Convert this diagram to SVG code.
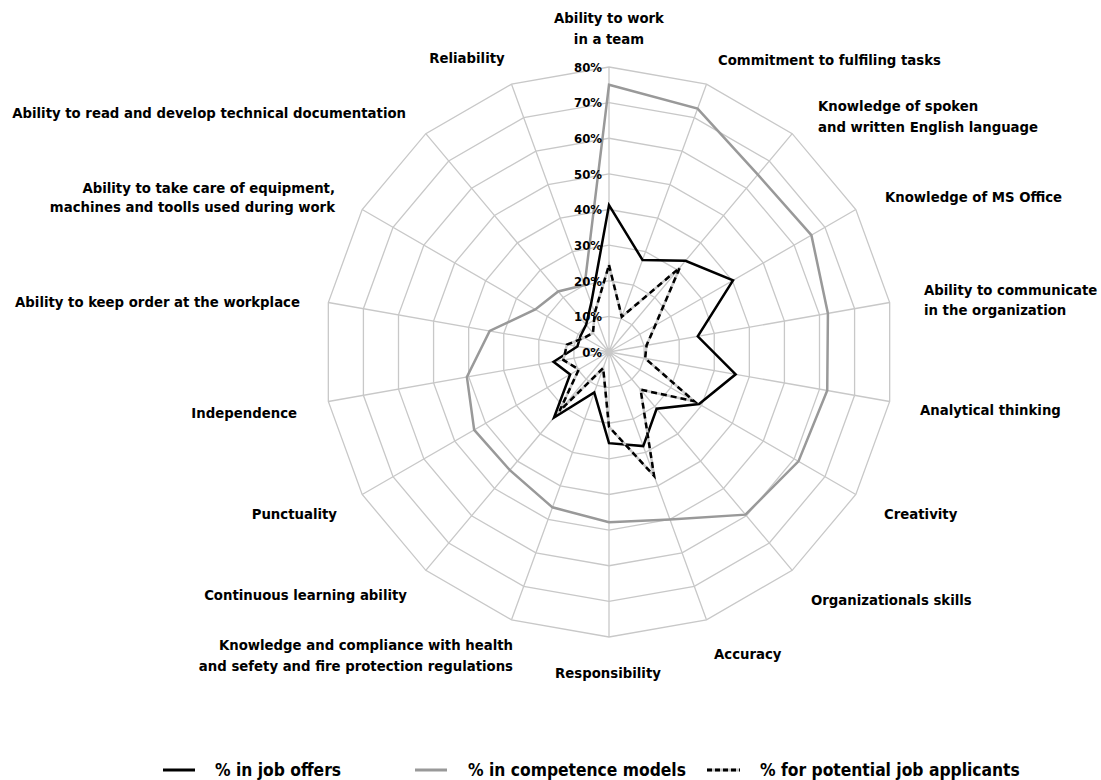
<svg xmlns="http://www.w3.org/2000/svg" xmlns:xlink="http://www.w3.org/1999/xlink" width="1101" height="780" viewBox="0 0 1101 780">
<style>
.lbl{font-family:"DejaVu Sans Condensed","DejaVu Sans",sans-serif;font-weight:bold;font-size:14.75px;fill:#000}
.pct{font-family:"DejaVu Sans Condensed","DejaVu Sans",sans-serif;font-weight:bold;font-size:13px;fill:#000;text-anchor:end}
.leg{font-family:"DejaVu Sans Condensed","DejaVu Sans",sans-serif;font-weight:bold;font-size:17.3px;fill:#000}
.grid{fill:none;stroke:#c8c8c8;stroke-width:1.3;vector-effect:non-scaling-stroke}
.s-job{fill:none;stroke:#000;stroke-width:2.5;stroke-linejoin:miter}
.s-comp{fill:none;stroke:#999;stroke-width:2.5;stroke-linejoin:miter}
.s-app-bg{fill:none;stroke:#c8c8c8;stroke-width:2.5}
.s-app{fill:none;stroke:#000;stroke-width:2.5;stroke-dasharray:6 4}
</style>
<defs>
<polygon id="ring" class="grid" points="0,-35.625 12.184,-33.476 22.899,-27.29 30.852,-17.8125 35.084,-6.186 35.084,6.186 30.852,17.8125 22.899,27.29 12.184,33.476 0,35.625 -12.184,33.476 -22.899,27.29 -30.852,17.8125 -35.084,6.186 -35.084,-6.186 -30.852,-17.8125 -22.899,-27.29 -12.184,-33.476"/>
</defs>
<rect width="1101" height="780" fill="#fff"/>
<g id="grid" transform="translate(609,352)">
<use xlink:href="#ring" transform="scale(1)"/>
<use xlink:href="#ring" transform="scale(2)"/>
<use xlink:href="#ring" transform="scale(3)"/>
<use xlink:href="#ring" transform="scale(4)"/>
<use xlink:href="#ring" transform="scale(5)"/>
<use xlink:href="#ring" transform="scale(6)"/>
<use xlink:href="#ring" transform="scale(7)"/>
<use xlink:href="#ring" transform="scale(8)"/>
<path class="grid" d="M0,0L0,-285M0,0L97.47,-267.81M0,0L183.19,-218.32M0,0L246.82,-142.5M0,0L280.67,-49.49M0,0L280.67,49.49M0,0L246.82,142.5M0,0L183.19,218.32M0,0L97.47,267.81M0,0L0,285M0,0L-97.47,267.81M0,0L-183.19,218.32M0,0L-246.82,142.5M0,0L-280.67,49.49M0,0L-280.67,-49.49M0,0L-246.82,-142.5M0,0L-183.19,-218.32M0,0L-97.47,-267.81"/>
</g>
<g id="connectors" transform="translate(609,352)">
<polygon id="series-competence" class="s-comp" points="0,-267.19 88.58,-243.38 148.85,-177.39 202.39,-116.85 218.92,-38.6 218.23,38.48 189.43,109.37 136.48,162.65 60.92,167.38 0,170.29 -56.54,155.33 -99.15,118.17 -134.82,77.84 -142.09,25.05 -119.29,-21.03 -73.73,-42.57 -50.84,-60.58 -24.37,-66.95"/>
<polygon id="series-job" class="s-job" points="0,-146.78 33.51,-92.06 76.48,-91.15 124.02,-71.61 88.76,-15.65 126.65,22.33 90.09,52.01 47.63,56.76 34.24,94.07 0,91.2 -14.74,40.51 -54.96,65.5 -38.87,22.44 -55.43,9.77 -31.58,-5.57 -28.38,-16.39 -22.9,-27.29 -17.79,-48.88"/>
<polygon class="s-app-bg" points="0,-86.93 12.79,-35.15 70.76,-84.33 46.28,-26.72 37.54,-6.62 36.14,6.37 85.15,49.16 31.6,37.66 45.08,123.86 0,74.81 -5.85,16.07 -49.46,58.95 -30.23,17.46 -45.61,8.04 -42.1,-7.42 -24.68,-14.25 -16.03,-19.1 -14.26,-39.17"/>
<polygon id="series-applicants" class="s-app" points="0,-86.93 12.79,-35.15 70.76,-84.33 46.28,-26.72 37.54,-6.62 36.14,6.37 85.15,49.16 31.6,37.66 45.08,123.86 0,74.81 -5.85,16.07 -49.46,58.95 -30.23,17.46 -45.61,8.04 -42.1,-7.42 -24.68,-14.25 -16.03,-19.1 -14.26,-39.17"/>
</g>
<g id="axis-scale">
<text class="pct" x="602" y="71.5">80%</text>
<text class="pct" x="602" y="107">70%</text>
<text class="pct" x="602" y="143">60%</text>
<text class="pct" x="602" y="178.5">50%</text>
<text class="pct" x="602" y="214">40%</text>
<text class="pct" x="602" y="250">30%</text>
<text class="pct" x="602" y="285.5">20%</text>
<text class="pct" x="602" y="321">10%</text>
<text class="pct" x="602" y="357">0%</text>
</g>
<g id="label-team"><text class="lbl" x="609" y="23" text-anchor="middle">Ability to work</text><text class="lbl" x="609" y="44" text-anchor="middle">in a team</text></g>
<g id="label-commitment"><text class="lbl" x="718" y="65">Commitment to fulfiling tasks</text></g>
<g id="label-english"><text class="lbl" x="818" y="111">Knowledge of spoken</text><text class="lbl" x="818" y="132">and written English language</text></g>
<g id="label-msoffice"><text class="lbl" x="885" y="202">Knowledge of MS Office</text></g>
<g id="label-communicate"><text class="lbl" x="924" y="295">Ability to communicate</text><text class="lbl" x="924" y="315">in the organization</text></g>
<g id="label-analytical"><text class="lbl" x="920" y="415">Analytical thinking</text></g>
<g id="label-creativity"><text class="lbl" x="884" y="519">Creativity</text></g>
<g id="label-organizational"><text class="lbl" x="811" y="605">Organizationals skills</text></g>
<g id="label-accuracy"><text class="lbl" x="714" y="659">Accuracy</text></g>
<g id="label-responsibility"><text class="lbl" x="608" y="678" text-anchor="middle">Responsibility</text></g>
<g id="label-health"><text class="lbl" x="513" y="650" text-anchor="end">Knowledge and compliance with health</text><text class="lbl" x="513" y="671" text-anchor="end">and sefety and fire protection regulations</text></g>
<g id="label-learning"><text class="lbl" x="407" y="600" text-anchor="end">Continuous learning ability</text></g>
<g id="label-punctuality"><text class="lbl" x="337" y="519" text-anchor="end">Punctuality</text></g>
<g id="label-independence"><text class="lbl" x="297" y="418" text-anchor="end">Independence</text></g>
<g id="label-order"><text class="lbl" x="300" y="307" text-anchor="end">Ability to keep order at the workplace</text></g>
<g id="label-equipment"><text class="lbl" x="335" y="193" text-anchor="end">Ability to take care of equipment,</text><text class="lbl" x="335" y="212" text-anchor="end">machines and toolls used during work</text></g>
<g id="label-documentation"><text class="lbl" x="406" y="118" text-anchor="end">Ability to read and develop technical documentation</text></g>
<g id="label-reliability"><text class="lbl" x="467" y="63" text-anchor="middle">Reliability</text></g>
<g id="legend">
<line x1="163" y1="770" x2="195" y2="770" stroke="#000" stroke-width="3"/>
<text class="leg" x="215" y="776">% in job offers</text>
<line x1="415" y1="770" x2="447" y2="770" stroke="#999" stroke-width="3"/>
<text class="leg" x="468" y="776">% in competence models</text>
<line x1="707" y1="770" x2="740" y2="770" stroke="#c8c8c8" stroke-width="3"/>
<line x1="707" y1="770" x2="740" y2="770" stroke="#000" stroke-width="3" stroke-dasharray="5 3"/>
<text class="leg" x="760" y="776">% for potential job applicants</text>
</g>
</svg>
